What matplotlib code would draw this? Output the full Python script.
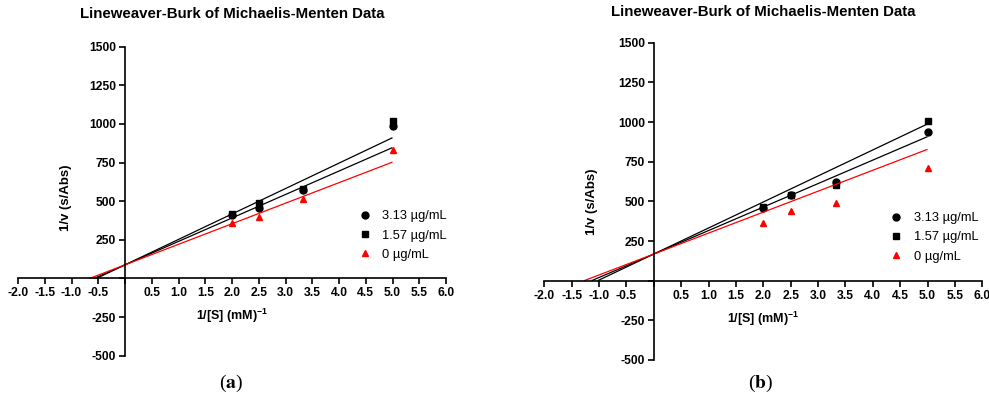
import matplotlib
matplotlib.use('Agg')
import matplotlib.pyplot as plt
import numpy as np

plt.rcParams['font.family'] = ['Liberation Sans', 'DejaVu Sans']
plt.rcParams['mathtext.fontset'] = 'custom'
plt.rcParams['mathtext.bf'] = 'Liberation Sans:bold'
plt.rcParams['mathtext.rm'] = 'Liberation Sans'

# ---------------- data ----------------
inv_s = [2.0, 2.5, 3.33, 5.0]
series_labels = ['3.13 µg/mL', '1.57 µg/mL', '0 µg/mL']

# panel (a) 1/v values
a_313 = [412, 456, 570, 987]
a_157 = [415, 488, 576, 1019]
a_0 = [357, 397, 514, 832]
# panel (a) fitted lines (slope, intercept) for 3.13, 1.57, 0
a_slopes = [151.8, 164.6, 133.0]
a_intercepts = [88, 88, 88]

# panel (b) 1/v values
b_313 = [455, 540, 620, 935]
b_157 = [467, 542, 601, 1004]
b_0 = [362, 437, 491, 708]
b_slopes = [148.0, 164.0, 132.0]
b_intercepts = [168, 168, 168]

x_ticks = [-2.0, -1.5, -1.0, -0.5, 0.0, 0.5, 1.0, 1.5, 2.0, 2.5, 3.0, 3.5,
           4.0, 4.5, 5.0, 5.5, 6.0]
y_ticks = [-500, -250, 0, 250, 500, 750, 1000, 1250, 1500]

title = 'Lineweaver-Burk of Michaelis-Menten Data'

colors = ['black', 'black', 'red']
markers = ['o', 's', '^']

fig = plt.figure(figsize=(9.89, 3.99), dpi=100)

W, H = 989.0, 399.0
panels = [
    dict(rect=[18 / W, 1 - 355.7 / H, 428 / W, 309 / H],
         ys=[a_313, a_157, a_0], slopes=a_slopes, ints=a_intercepts,
         cap='a', capxy=(231, 383), ylab_x=0.112, ylab_y=0.51,
         title_y=1.078, leg=(0.783, 0.487)),
    dict(rect=[544.3 / W, 1 - 360 / H, 438 / W, 317.3 / H],
         ys=[b_313, b_157, b_0], slopes=b_slopes, ints=b_intercepts,
         cap='b', capxy=(761, 383), ylab_x=0.108, ylab_y=0.50,
         title_y=1.0715, leg=(0.777, 0.482)),
]

for p in panels:
    ax = fig.add_axes(p['rect'])
    ax.set_xlim(-2, 6)
    ax.set_ylim(-500, 1500)
    for s in ['right', 'top']:
        ax.spines[s].set_visible(False)
    ax.spines['left'].set_position(('data', 0))
    ax.spines['bottom'].set_position(('data', 0))
    for s in ['left', 'bottom']:
        ax.spines[s].set_linewidth(1.2)
    ax.set_xticks(x_ticks)
    ax.set_xticklabels(['' if v == 0 else f'{v:.1f}' for v in x_ticks])
    ax.set_yticks(y_ticks)
    ax.set_yticklabels(['' if v == 0 else f'{v}' for v in y_ticks])
    ax.tick_params(axis='both', direction='out', length=4, width=1.2,
                   labelsize=8.7, pad=2.5)
    for lab in ax.get_xticklabels() + ax.get_yticklabels():
        lab.set_fontweight('bold')

    for ys, m, b, c, mk, lab in zip(p['ys'], p['slopes'], p['ints'],
                                    colors, markers, series_labels):
        x0 = -b / m
        xs = np.array([x0, max(inv_s)])
        ax.plot(xs, m * xs + b, color=c, lw=0.9, solid_capstyle='butt')
        ax.plot(inv_s, ys, ls='none', marker=mk, color=c, ms=5,
                label=lab, clip_on=False)

    leg = ax.legend(loc='upper left', bbox_to_anchor=p['leg'], frameon=False,
                    fontsize=9.3, handlelength=1.0, handletextpad=0.85,
                    labelspacing=0.55, numpoints=1, borderaxespad=0)

    ax.set_xlabel(r'1/[S] (mM)$^{\mathbf{-1}}$', fontsize=9, fontweight='bold',
                  va='center')
    ax.xaxis.set_label_coords(0.5, 0.13)
    ax.set_ylabel('1/v (s/Abs)', fontsize=9.5, fontweight='bold', va='center')
    ax.yaxis.set_label_coords(p['ylab_x'], p['ylab_y'])
    ax.set_title(title, fontsize=10.8, fontweight='bold', y=p['title_y'],
                 va='center')

    fig.text(p['capxy'][0] / W, 1 - p['capxy'][1] / H,
             r'($\mathbf{' + p['cap'] + '}$)', family='Liberation Serif',
             math_fontfamily='stix', fontsize=14, ha='center', va='center')

fig.savefig('out.png', dpi=100)
